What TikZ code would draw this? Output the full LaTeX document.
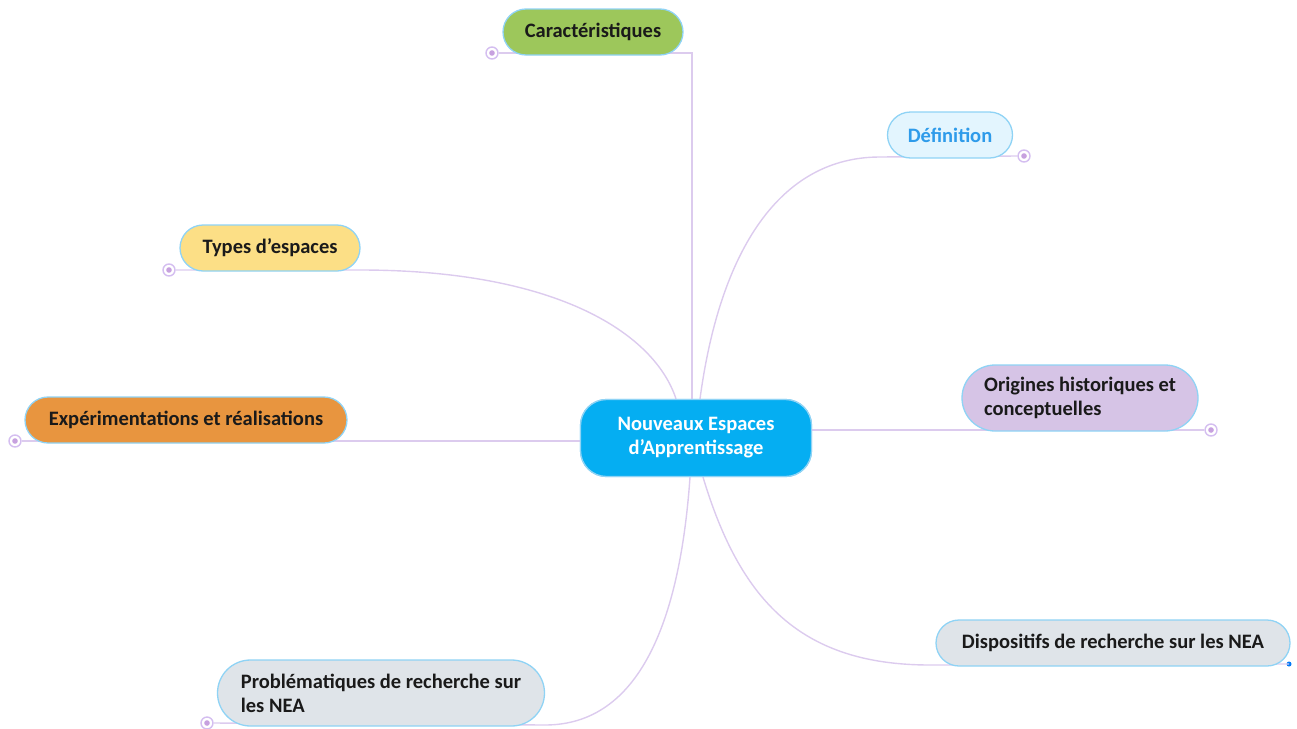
\documentclass[tikz,border=0pt]{standalone}
\usepackage{fontspec}
\setmainfont{Carlito}
\usetikzlibrary{shapes.misc}
\begin{document}
\begin{tikzpicture}[x=1pt,y=-1pt,
  box/.style={rounded rectangle, draw=bordc, line width=1.3pt, minimum height=46pt, inner xsep=8pt, font=\fontsize{20.5}{24}\selectfont\bfseries, text=txtc},
  conn/.style={draw=linec, line width=1.4pt},
  dot/.style={circle, minimum size=12pt, inner sep=0pt, draw=dotc, line width=1.4pt, fill=white, path picture={\fill[dotc!85!violet] (path picture bounding box.center) circle (2.8pt);}}
]
\definecolor{bordc}{HTML}{8FD3F5}
\definecolor{txtc}{HTML}{1A1A1A}
\definecolor{linec}{HTML}{DCCBEE}
\definecolor{dotc}{HTML}{D4BEF0}
\definecolor{cgreen}{HTML}{9DC75B}
\definecolor{cdef}{HTML}{E3F5FE}
\definecolor{cdeft}{HTML}{2E9BEA}
\definecolor{cyel}{HTML}{FCDF86}
\definecolor{corg}{HTML}{E8953F}
\definecolor{ccen}{HTML}{05AEF2}
\definecolor{cpur}{HTML}{D6C4E6}
\definecolor{cgry}{HTML}{DFE4E9}
\tikzset{central/.style={rectangle, draw=bordc, line width=1.3pt, fill=ccen, text=white, minimum height=77pt, minimum width=231pt, rounded corners=26pt, align=center, font=\fontsize{20.5}{24}\selectfont\bfseries}}
\useasboundingbox (0,0) rectangle (1297,728);

% coordinates for connector bends
\coordinate (k1) at (692,53);
\coordinate (k2) at (880,157);
\coordinate (k3) at (360,270);
\coordinate (k6) at (930,665);
\coordinate (k7) at (545,725);

\node[central] (c) at (696,438) {Nouveaux Espaces\\d'Apprentissage};

\node[dot] (d1) at (492,53) {};
\node[dot] (d2) at (1024,156) {};
\node[dot] (d3) at (169,270) {};
\node[dot] (d4) at (15,441) {};
\node[dot] (d5) at (1211,430) {};
\node[dot] (d7) at (207,723) {};
\fill[ccen!70!blue] (1289,664) circle (2.5pt) coordinate (d6);

\draw[conn] (d1.east) -- (k1) -- (k1 |- c.north);
\draw[conn] (d2.west) -- (k2) .. controls (780,157) and (720,250) .. ([xshift=4pt]c.north);
\draw[conn] (d3.east) -- (k3) .. controls (560,270) and (655,335) .. ([xshift=-20pt]c.north);
\draw[conn] (d4.east) -- (d4.east -| c.west);
\draw[conn] (c.east |- d5) -- (d5.west);
\draw[conn] ([xshift=7pt]c.south) .. controls (740,600) and (800,665) .. (k6) -- (d6);
\draw[conn] ([xshift=-6pt]c.south) .. controls (680,620) and (640,725) .. (k7) -- (d7.east);

% redraw central on top
\node[central] at (696,438) {Nouveaux Espaces\\d'Apprentissage};

\node[box, fill=cgreen, minimum width=196pt] (n1) at (593,32) {Caractéristiques};
\node[box, fill=cdef, text=cdeft, minimum width=141pt] (n2) at (950,135) {Définition};
\node[box, fill=cyel, minimum width=196pt] (n3) at (270,248) {Types d'espaces};
\node[box, fill=corg, minimum width=338pt] (n4) at (186,420) {Expérimentations et réalisations};
\node[box, fill=cpur, minimum width=252pt, minimum height=66pt, align=left] (n5) at (1080,398) {Origines historiques et\\conceptuelles};
\node[box, fill=cgry, minimum width=370pt] (n6) at (1113,643) {Dispositifs de recherche sur les NEA};
\node[box, fill=cgry, minimum width=343pt, minimum height=66pt, align=left] (n7) at (381,693) {Problématiques de recherche sur\\les NEA};
\end{tikzpicture}
\end{document}
